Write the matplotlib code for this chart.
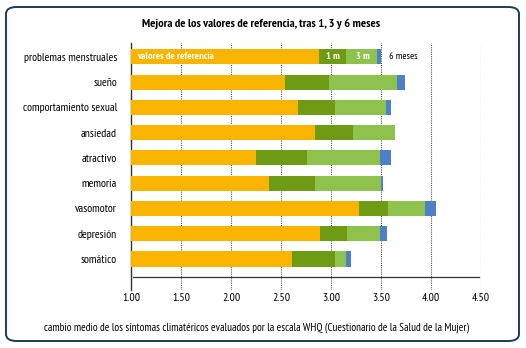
import matplotlib.pyplot as plt
from matplotlib.patches import FancyBboxPatch

plt.rcParams['font.family'] = ['PT Sans Narrow', 'DejaVu Sans']

# Datos (valor acumulado al final de cada tramo)
categorias = ['problemas menstruales', 'sueño', 'comportamiento sexual', 'ansiedad',
              'atractivo', 'memoria', 'vasomotor', 'depresión', 'somático']
referencia = [2.88, 2.54, 2.67, 2.84, 2.25, 2.38, 3.28, 2.89, 2.61]
mes_1 = [3.15, 2.98, 3.04, 3.22, 2.76, 2.84, 3.57, 3.16, 3.04]
mes_3 = [3.46, 3.66, 3.55, 3.64, 3.49, 3.50, 3.94, 3.49, 3.15]
mes_6 = [3.50, 3.74, 3.60, 3.64, 3.60, 3.52, 4.05, 3.56, 3.20]
ticks = [1.0, 1.5, 2.0, 2.5, 3.0, 3.5, 4.0, 4.5]

c_ref = '#F9B400'
c_1m = '#6E9A14'
c_3m = '#8EC24C'
c_6m = '#4C80C8'

fig = plt.figure(figsize=(5.26, 3.48), dpi=100)

# marco redondeado
marco = FancyBboxPatch((6 / 526, 7 / 348), 513 / 526, 334 / 348,
                       boxstyle='round,pad=0,rounding_size=0.02',
                       transform=fig.transFigure, fill=False,
                       edgecolor='#1E3C5C', linewidth=1.4)
fig.patches.append(marco)

ax = fig.add_axes([131 / 526, 58 / 348, 350 / 526, 247 / 348])
y = list(range(len(categorias)))
h = 0.6
base = 1.0

for i in y:
    ax.barh(i, referencia[i] - base, left=base, height=h, color=c_ref, zorder=3)
    ax.barh(i, mes_1[i] - referencia[i], left=referencia[i], height=h, color=c_1m, zorder=3)
    ax.barh(i, mes_3[i] - mes_1[i], left=mes_1[i], height=h, color=c_3m, zorder=3)
    ax.barh(i, mes_6[i] - mes_3[i], left=mes_3[i], height=h, color=c_6m, zorder=3)

# etiquetas en la primera barra
ax.text(base + 0.06, 0, 'valores de referencia', color='white', fontsize=7.4,
        fontweight='bold', va='center', ha='left', zorder=4)
ax.text((referencia[0] + mes_1[0]) / 2, 0, '1 m', color='white', fontsize=7.4,
        fontweight='bold', va='center', ha='center', zorder=4)
ax.text(mes_1[0] + 0.1, 0, '3 m', color='white', fontsize=7.4,
        fontweight='bold', va='center', ha='left', zorder=4)
ax.text(mes_6[0] + 0.08, 0, '6 meses', color='black', fontsize=7.2,
        va='center', ha='left', zorder=4)

ax.set_xlim(1.0, 4.5)
ax.set_ylim(9.23, -0.55)
ax.set_yticks(y)
ax.set_yticklabels(categorias, fontsize=8.4)
ax.tick_params(axis='y', length=0, pad=10)
ax.set_xticks(ticks)
ax.set_xticklabels(['%.2f' % t for t in ticks], fontsize=8.5)
ax.tick_params(axis='x', length=0, pad=2)

for t in ticks[1:]:
    ax.axvline(t, color='#555555', linestyle=(0, (1, 1)), linewidth=0.8, zorder=1)
ax.axhline(8.71, xmin=0.005, xmax=0.993, color='#333333', linewidth=0.9, zorder=2)

for s in ['top', 'right', 'bottom']:
    ax.spines[s].set_visible(False)
ax.spines['left'].set_color('#333333')
ax.spines['left'].set_linewidth(1.0)

fig.text(261 / 526, 1 - 24 / 348, 'Mejora de los valores de referencia, tras 1, 3 y 6 meses',
         ha='center', va='center', fontsize=8.9, fontweight='bold')
fig.text(257 / 526, 1 - 328 / 348,
         'cambio medio de los síntomas climatéricos evaluados por la escala WHQ '
         '(Cuestionario de la Salud de la Mujer)',
         ha='center', va='center', fontsize=8)

fig.savefig('out.png', dpi=100)
